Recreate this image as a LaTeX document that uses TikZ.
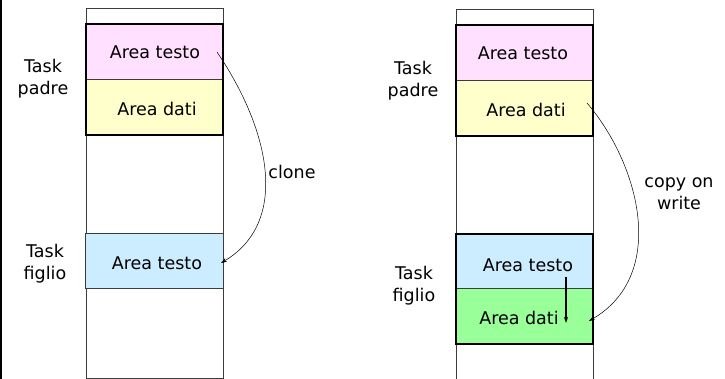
\documentclass[tikz,border=0pt]{standalone}
\usepackage{fontspec}
\setmainfont{DejaVu Sans}
\usetikzlibrary{arrows.meta}
\definecolor{segpink}{RGB}{255,225,255}
\definecolor{segyellow}{RGB}{255,255,204}
\definecolor{segblue}{RGB}{204,236,255}
\definecolor{seggreen}{RGB}{153,255,153}
\definecolor{colline}{RGB}{60,60,60}
\tikzset{
  column/.style={draw=colline, line width=0.8pt, fill=white},
  segment/.style={draw=colline, line width=0.6pt},
  group/.style={draw=black, line width=1.8pt},
  lbl/.style={font=\fontsize{17.5}{22}\selectfont, inner sep=0pt, align=center},
  copyarrow/.style={line width=0.5pt, -{Stealth[length=6pt,width=4pt]}},
  downarrow/.style={line width=1.3pt, -{Stealth[length=6pt,width=4pt]}}
}
\begin{document}
\begin{tikzpicture}[x=1pt,y=-1pt]
  \useasboundingbox (0,0) rectangle (725,379);
  \fill[white] (0,0) rectangle (725,379);
  \draw[line width=2pt] (1,0) -- (1,379);

  % ----- left: clone -----
  \draw[column] (86,8) rectangle (223,378);
  \draw[segment, fill=segpink] (86,24) rectangle (223,79);
  \draw[segment, fill=segyellow] (86,79) rectangle (223,135);
  \draw[group] (86,24) rectangle (223,135);
  \draw[segment, fill=segblue] (85,233) rectangle (223,288);

  \node[lbl] (ltxt) at (155,52) {Area testo};
  \node[lbl] (ldat) at (157,109) {Area dati};
  \node[lbl] (lctxt) at (157,263) {Area testo};
  \node[lbl] (lpadre) at (43,79) {Task\\padre};
  \node[lbl] (lfiglio) at (45,264) {Task\\figlio};
  \node[lbl] (clone) at (292,172) {clone};

  \coordinate (lsrc) at (217,52);
  \coordinate (ldst) at (221,263);
  \draw[copyarrow] (lsrc) .. controls (270,130) and (290,222) .. (ldst);

  % ----- right: copy on write -----
  \draw[column] (456,9) rectangle (593,379);
  \draw[segment, fill=segpink] (456,25) rectangle (593,80);
  \draw[segment, fill=segyellow] (456,80) rectangle (593,136);
  \draw[group] (456,25) rectangle (593,136);
  \draw[segment, fill=segblue] (456,234) rectangle (593,288);
  \draw[segment, fill=seggreen] (456,288) rectangle (593,344);
  \draw[group] (456,234) rectangle (593,344);

  \node[lbl] (rtxt) at (523,53) {Area testo};
  \node[lbl] (rdat) at (526,110) {Area dati};
  \node[lbl] (rctxt) at (528,265) {Area testo};
  \node[lbl] (rcdat) at (519,318) {Area dati};
  \node[lbl] (rpadre) at (413,81) {Task\\padre};
  \node[lbl] (rfiglio) at (414,286) {Task\\figlio};
  \node[lbl] (cow) at (679,194) {copy on\\write};

  \coordinate (rsrc) at (587,103);
  \coordinate (rdst) at (589,321);
  \draw[copyarrow] (rsrc) .. controls (640,165) and (668,275) .. (rdst);

  \coordinate (dtop) at (566,277);
  \coordinate (dbot) at (566,323);
  \draw[downarrow] (dtop) -- (dbot);
\end{tikzpicture}
\end{document}
